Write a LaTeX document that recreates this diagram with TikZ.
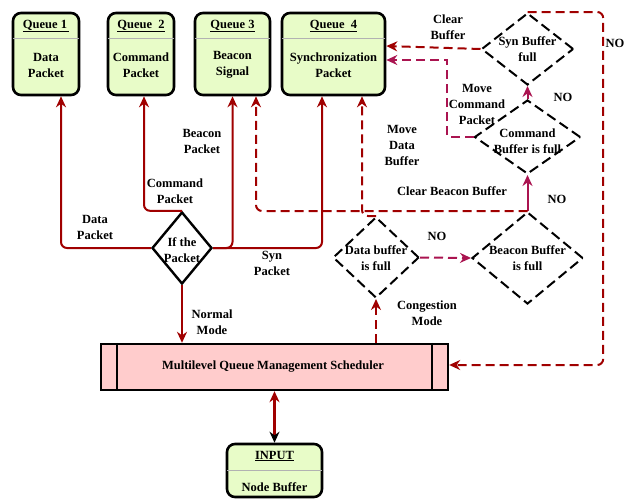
\documentclass[tikz,border=0pt]{standalone}
\usepackage{fontspec}
\setmainfont{Liberation Serif}
\usetikzlibrary{arrows.meta,shapes.geometric}
\definecolor{dred}{RGB}{160,0,0}
\definecolor{mag}{RGB}{170,20,80}
\definecolor{qgreen}{RGB}{232,252,200}
\definecolor{spink}{RGB}{255,204,204}
\begin{document}
\begin{tikzpicture}[x=1pt,y=-1pt,
  font=\bfseries\fontsize{12.5}{16}\selectfont,
  queue/.style={draw, line width=2.6pt, rounded corners=8pt, fill=qgreen},
  divline/.style={draw=gray!60, line width=1pt},
  tip/.style={-{Stealth[length=11pt,width=10pt]}},
  sarrow/.style={draw=dred, line width=2pt, tip, rounded corners=6pt},
  darrow/.style={sarrow, dash pattern=on 9pt off 5pt},
  marrow/.style={draw=mag, line width=2pt, tip},
  marrowd/.style={marrow, dash pattern=on 9pt off 5pt},
  dia/.style={diamond, draw, inner sep=0pt, line width=2pt, dash pattern=on 10pt off 5pt},
  txt/.style={align=center, inner sep=0pt}]
\useasboundingbox (0,0) rectangle (630,499);

% queues
\node[queue, minimum width=66pt, minimum height=82pt] (q1) at (46,54) {};
\node[queue, minimum width=66pt, minimum height=82pt] (q2) at (141,54) {};
\node[queue, minimum width=75pt, minimum height=82pt] (q3) at (232.5,54) {};
\node[queue, minimum width=103pt, minimum height=82pt] (q4) at (333.5,54) {};
\foreach \q in {q1,q2,q3,q4}{
  \draw[divline, shorten <=1.4pt, shorten >=1.4pt] ([yshift=-27pt]\q.north west) -- ([yshift=-27pt]\q.north east);
}
\node[txt] (q1h) at (46,26) {\underline{Queue 1\,}};
\node[txt] (q1b) at (46,65) {Data\\Packet};
\node[txt] (q2h) at (141,26) {\underline{Queue~~2}};
\node[txt] (q2b) at (141,65) {Command\\Packet};
\node[txt] (q3h) at (232.5,26) {\underline{Queue 3}};
\node[txt] (q3b) at (232.5,65) {Beacon\\Signal};
\node[txt] (q4h) at (333.5,26) {\underline{Queue~~4}};
\node[txt] (q4b) at (333.5,65) {Synchronization\\Packet};

% scheduler
\node[draw, line width=2.4pt, fill=spink, minimum width=347pt, minimum height=46pt] (sched) at (274.5,367) {};
\draw[line width=2.2pt] ([xshift=17pt]sched.north west) -- ([xshift=17pt]sched.south west);
\draw[line width=2.2pt] ([xshift=-17pt]sched.north east) -- ([xshift=-17pt]sched.south east);
\node[txt] (schedt) at (273,367) {Multilevel Queue Management Scheduler};

% input
\node[queue, minimum width=95pt, minimum height=53pt] (input) at (274.5,470.5) {};
\draw[divline, shorten <=1.4pt, shorten >=1.4pt] ([yshift=-28pt]input.north west) -- ([yshift=-28pt]input.north east);
\node[txt] (inh) at (274.5,456) {\underline{INPUT}};
\node[txt] (inb) at (274.5,487) {Node Buffer};

% diamonds
\node[diamond, draw, inner sep=0pt, line width=2.4pt, fill=white, minimum width=60pt, minimum height=72pt] (ifp) at (182,248) {};
\node[txt] (ifpt) at (182,250) {If the\\Packet};
\node[dia, minimum width=92pt, minimum height=72pt] (syn) at (527.5,49) {};
\node[txt] (synt) at (527.5,49) {Syn Buffer\\full};
\node[dia, minimum width=106pt, minimum height=74pt] (command) at (527.5,137) {};
\node[txt] (commandt) at (527.5,141) {Command\\Buffer is full};
\node[dia, minimum width=111pt, minimum height=92pt] (beacon) at (527.5,258) {};
\node[txt] (beacont) at (527.5,258) {Beacon Buffer\\is full};
\node[dia, minimum width=86pt, minimum height=81pt] (data) at (376,257.5) {};
\node[txt] (datat) at (376,258) {Data buffer\\is full};

% solid routes from the packet test
\draw[sarrow] (ifp.west) -| ([xshift=15pt]q1.south);
\draw[sarrow] (ifp.north) -| ([xshift=3pt]q2.south);
\draw[sarrow] (ifp.east) -| (q3.south);
\draw[sarrow] (ifp.east) -| ([xshift=-11.5pt]q4.south);
\draw[sarrow] (ifp.south) -- (ifp.south |- sched.north);
\draw[draw=dred, line width=2.2pt, {Stealth[length=11pt,width=10pt]}-{Stealth[length=11pt,width=10pt,color=black]}] (sched.south) -- (input.north);

% congestion branch
\draw[darrow] (sched.north -| data.south) -- (data.south);
\draw[marrowd] (data.east) -- (beacon.west);
\draw[marrow] (beacon.north) -- (command.south);
\draw[marrow] (command.north) -- (syn.south);
\draw[darrow] (syn.west) -- ([yshift=8pt]q4.east);
\draw[marrowd] (command.west) -| ([xshift=61pt,yshift=-6pt]q4.east) -- ([yshift=-6pt]q4.east);
\draw[darrow] (beacon.north) -| ([xshift=23.5pt]q3.south);
\draw[darrow] (data.north) -| ([xshift=28.5pt]q4.south);
\draw[darrow] (syn.north) -| ([xshift=154pt,yshift=2pt]sched.east) -- ([yshift=2pt]sched.east);

% labels
\node[txt] (ldata) at (95,227) {Data\\Packet};
\node[txt] (lcmd) at (175,191) {Command\\Packet};
\node[txt] (lbeac) at (202,141) {Beacon\\Packet};
\node[txt] (lsyn) at (272,263.5) {Syn\\Packet};
\node[txt] (lnorm) at (212,322) {Normal\\Mode};
\node[txt] (lcong) at (427,313) {Congestion\\Mode};
\node[txt] (lno1) at (437,236) {NO};
\node[txt] (lno2) at (557,199) {NO};
\node[txt] (lno3) at (563,97) {NO};
\node[txt] (lno4) at (615,43) {NO};
\node[txt] (lclr) at (448,27) {Clear\\Buffer};
\node[txt] (lmcp) at (477,104) {Move\\Command\\Packet};
\node[txt] (lmdb) at (402,145) {Move\\Data\\Buffer};
\node[txt] (lcbb) at (452,191) {Clear Beacon Buffer};
\end{tikzpicture}
\end{document}
